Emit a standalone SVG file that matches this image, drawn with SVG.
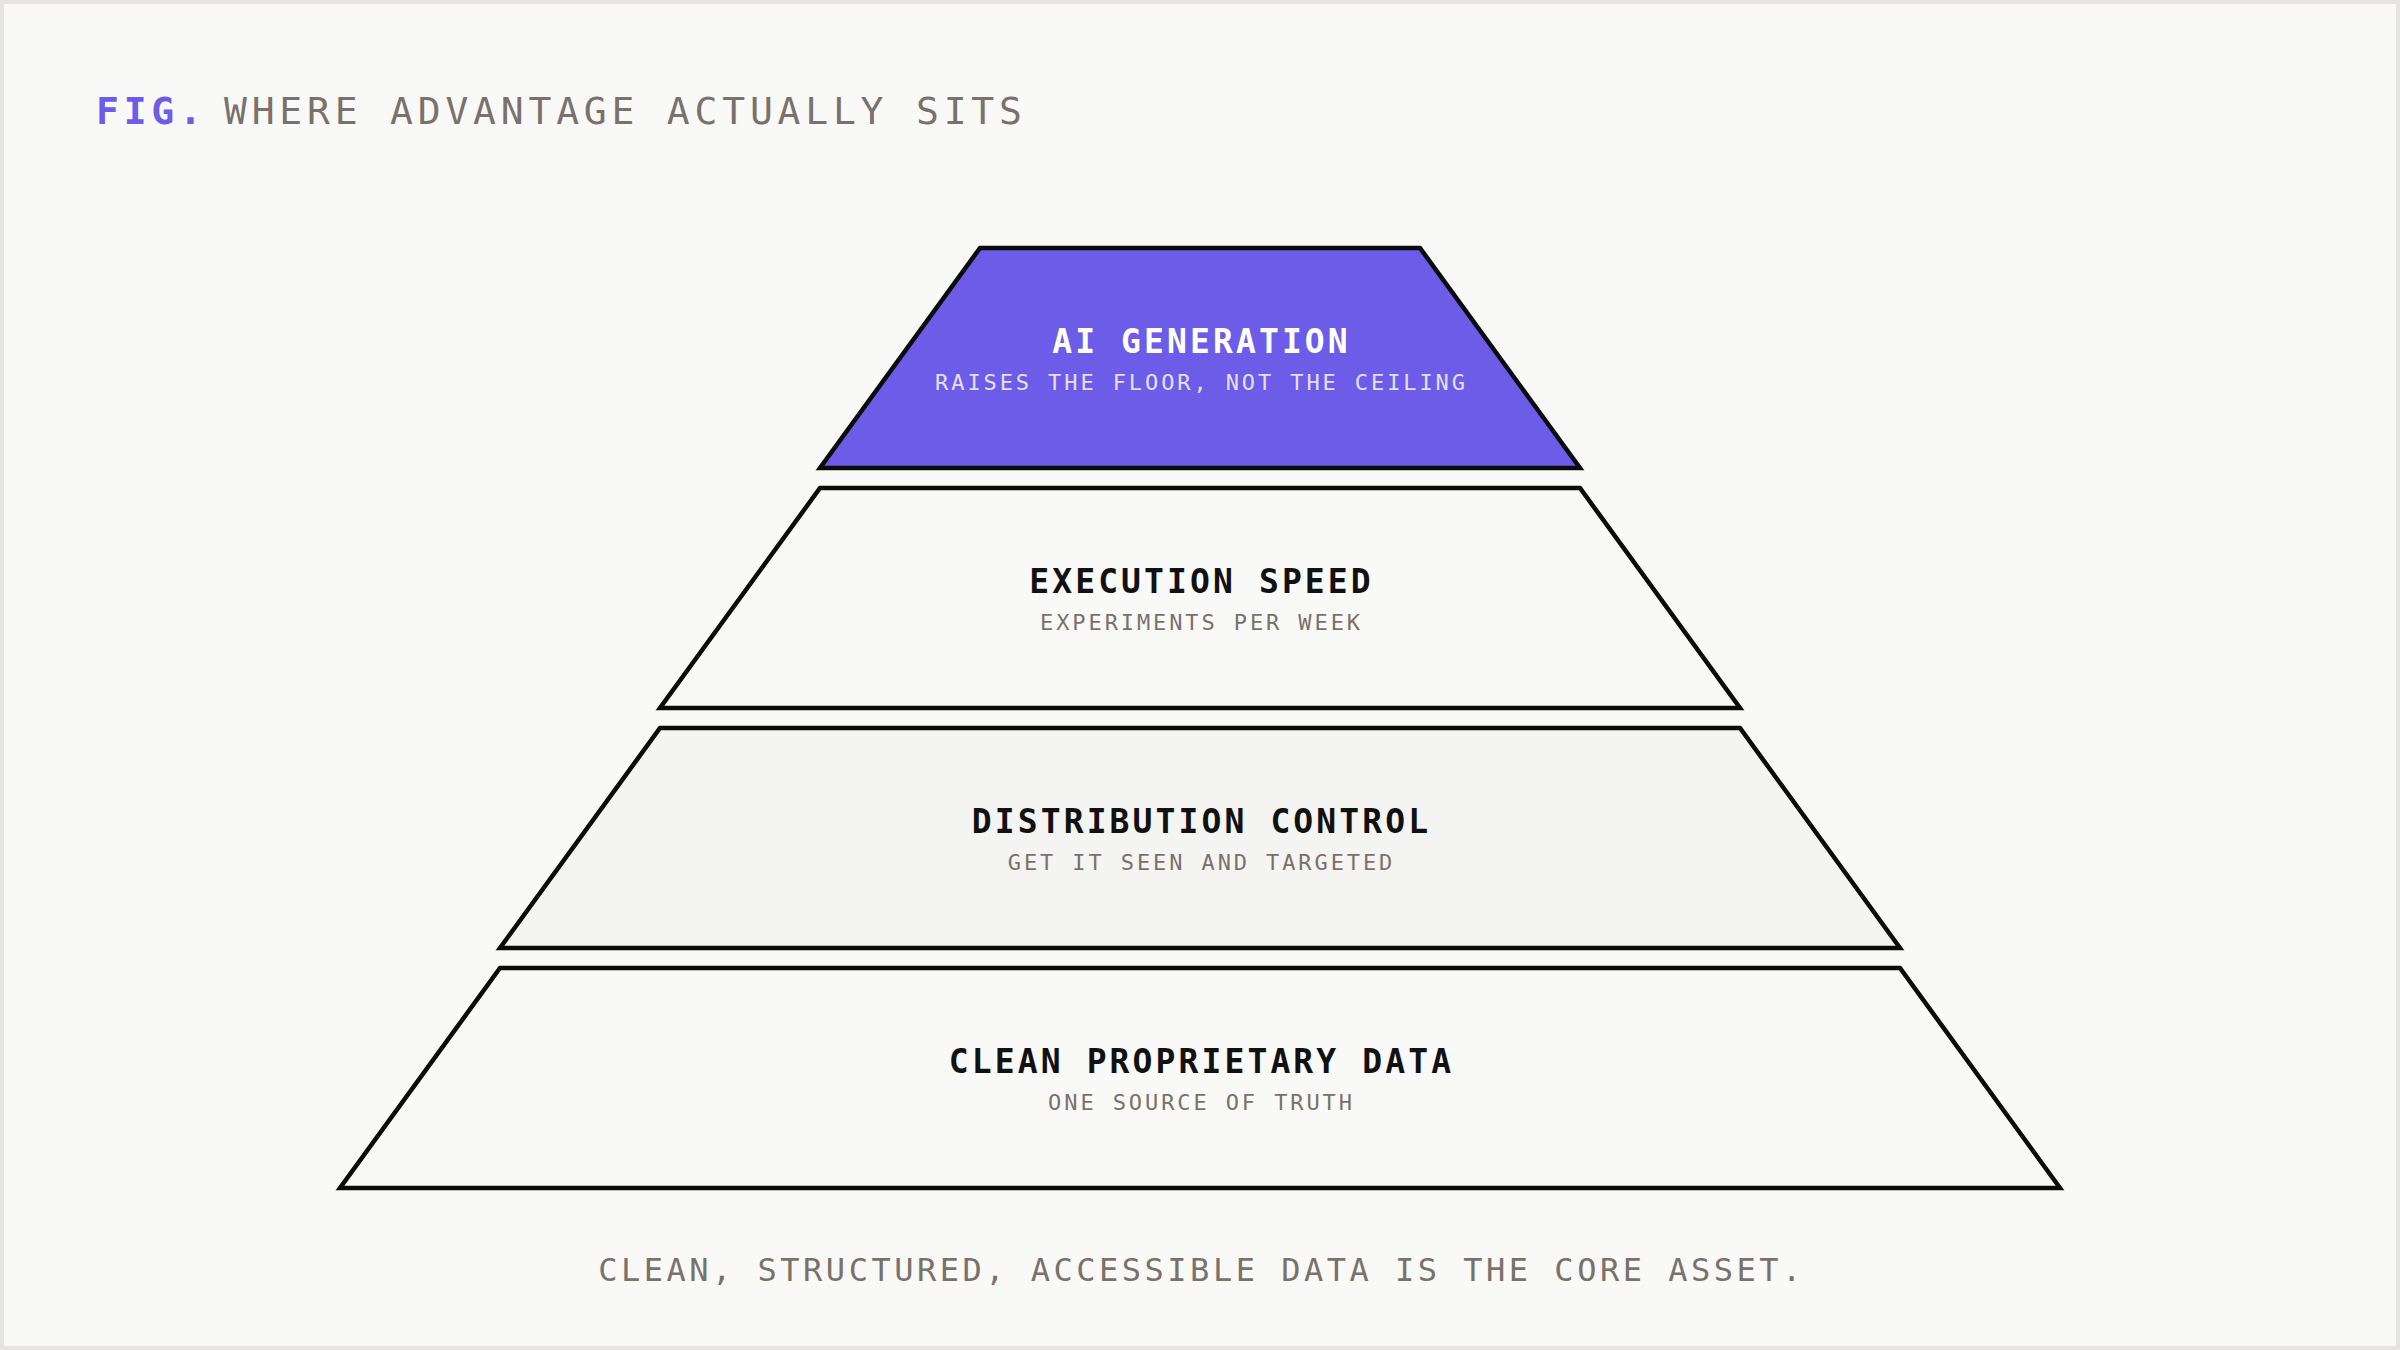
<svg xmlns="http://www.w3.org/2000/svg" width="2400" height="1350" viewBox="0 0 2400 1350">
  <style>
    .mono { font-family: "DejaVu Sans Mono", "Liberation Mono", monospace; }
    .layer { stroke: #0b0b0b; stroke-width: 4.5; stroke-linejoin: miter; }
    .ttl { font-size: 33px; font-weight: bold; letter-spacing: 3.1px; text-anchor: middle; }
    .sub { font-size: 22px; letter-spacing: 2.9px; text-anchor: middle; }
    .dark { fill: #111111; }
    .muted { fill: #7a716b; }
  </style>
  <rect x="2" y="2" width="2396" height="1346" fill="#f9f9f7" stroke="#e5e4e2" stroke-width="4"/>

  <text class="mono" x="96" y="124" font-size="38" letter-spacing="4.8" font-weight="bold" fill="#6c5ce7">FIG.</text>
  <text class="mono" x="224" y="124" font-size="38" letter-spacing="4.8" fill="#7a716b">WHERE ADVANTAGE ACTUALLY SITS</text>

  <g id="connectors"></g>

  <g id="layer-ai-generation">
    <polygon class="layer" points="980,248 1420,248 1580,468 820,468" fill="#6c5ce7"/>
    <text class="mono ttl" x="1201.5" y="353" fill="#ffffff">AI GENERATION</text>
    <text class="mono sub" x="1201.5" y="390" fill="#e4e0f7">RAISES THE FLOOR, NOT THE CEILING</text>
  </g>

  <g id="layer-execution-speed">
    <polygon class="layer" points="820,488 1580,488 1740,708 660,708" fill="#f9f9f7"/>
    <text class="mono ttl dark" x="1201.5" y="593">EXECUTION SPEED</text>
    <text class="mono sub muted" x="1201.5" y="630">EXPERIMENTS PER WEEK</text>
  </g>

  <g id="layer-distribution-control">
    <polygon class="layer" points="660,728 1740,728 1900,948 500,948" fill="#f4f4f2"/>
    <text class="mono ttl dark" x="1201.5" y="833">DISTRIBUTION CONTROL</text>
    <text class="mono sub muted" x="1201.5" y="870">GET IT SEEN AND TARGETED</text>
  </g>

  <g id="layer-clean-data">
    <polygon class="layer" points="500,968 1900,968 2060,1188 340,1188" fill="#f9f9f7"/>
    <text class="mono ttl dark" x="1201.5" y="1073">CLEAN PROPRIETARY DATA</text>
    <text class="mono sub muted" x="1201.5" y="1110">ONE SOURCE OF TRUTH</text>
  </g>

  <text class="mono" x="1201.5" y="1281" font-size="32" letter-spacing="3.5" text-anchor="middle" fill="#7a716b">CLEAN, STRUCTURED, ACCESSIBLE DATA IS THE CORE ASSET.</text>
</svg>
